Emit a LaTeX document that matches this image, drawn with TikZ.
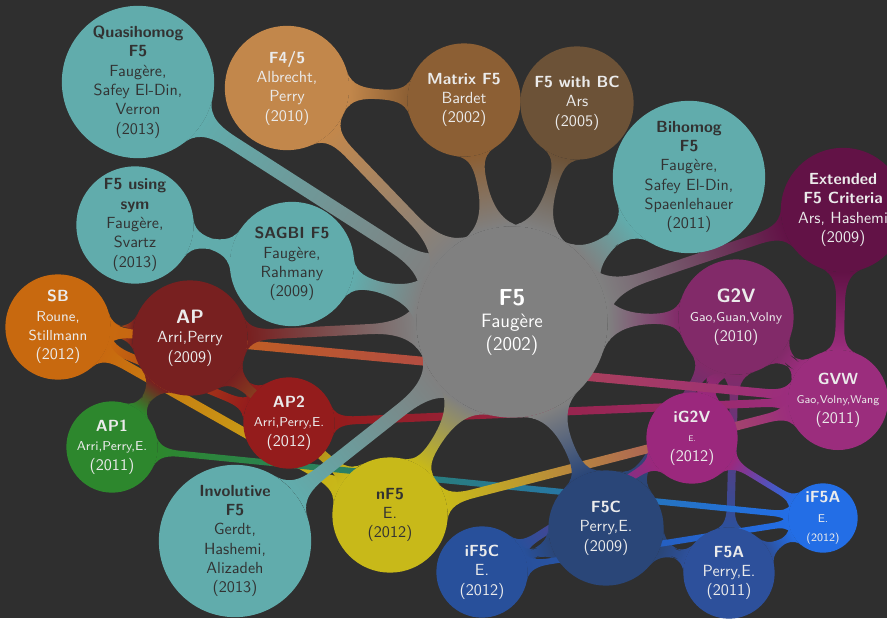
\documentclass[tikz,border=0pt]{standalone}
\usetikzlibrary{mindmap,backgrounds}

\newcommand\px{0.0218cm}

\definecolor{cbg}{RGB}{47,47,47}
\definecolor{cink}{RGB}{50,50,50}
\definecolor{cteal}{RGB}{97,172,172}
\definecolor{croot}{RGB}{128,128,128}
\colorlet{cquasi}{cteal}
\colorlet{cbihom}{cteal}
\colorlet{csagbi}{cteal}
\colorlet{csym}{cteal}
\colorlet{cinvol}{cteal}
\definecolor{cf45}{RGB}{194,135,75}
\definecolor{cmatrix}{RGB}{140,95,52}
\definecolor{cbc}{RGB}{108,82,55}
\definecolor{cext}{RGB}{98,18,70}
\definecolor{cgtv}{RGB}{130,42,105}
\definecolor{cgvw}{RGB}{155,45,125}
\definecolor{cigtv}{RGB}{155,40,125}
\definecolor{csb}{RGB}{200,105,15}
\definecolor{cap}{RGB}{120,32,32}
\definecolor{cap2}{RGB}{148,28,28}
\definecolor{cap1}{RGB}{45,135,45}
\definecolor{cnf}{RGB}{200,185,25}
\definecolor{cfc}{RGB}{42,70,120}
\definecolor{cifc}{RGB}{40,80,155}
\definecolor{cfa}{RGB}{45,80,155}
\definecolor{cifa}{RGB}{35,110,230}

\begin{document}
\begin{tikzpicture}[x=\px, y=-\px,
    idea/.style={circle, inner sep=0pt, align=center, font=\sffamily, text=white!92!black,
      fill=#1, draw=#1, line width=0.8pt},
    dark idea/.style={idea=#1, text=cink},
    hub/.style={idea=croot, minimum size=190*\px, font=\sffamily\large, text=white},
    large idea/.style={minimum size=151*\px},
    mid idea/.style={minimum size=123*\px},
    idea size/.style={minimum size=#1*\px},
    small idea/.style={minimum size=90*\px},
    tiny idea/.style={minimum size=68*\px},
  ]
  \begin{pgfonlayer}{background}
    \fill[cbg] (0,0) rectangle (887,618);
  \end{pgfonlayer}
  \useasboundingbox (0,0) rectangle (887,618);

  % the root
  \node[hub] (root) at (512,322) {{\Large\bfseries F5}\\Faugère\\(2002)};

  % upper half
  \node[dark idea=cquasi, large idea] (quasi) at (138,82)
    {\textbf{Quasihomog}\\\textbf{F5}\\Faugère,\\Safey El-Din,\\Verron\\(2013)};
  \node[idea=cf45, mid idea] (f45) at (287,88) {\textbf{F4/5}\\Albrecht,\\Perry\\(2010)};
  \node[idea=cmatrix, idea size=112] (matrix) at (464,100) {\textbf{Matrix F5}\\Bardet\\(2002)};
  \node[idea=cbc, idea size=112] (bc) at (577,103) {\textbf{F5 with BC}\\Ars\\(2005)};
  \node[dark idea=cbihom, large idea] (bihom) at (689,177)
    {\textbf{Bihomog}\\\textbf{F5}\\Faugère,\\Safey El-Din,\\Spaenlehauer\\(2011)};
  \node[idea=cext, mid idea] (ext) at (843,210)
    {\textbf{Extended}\\\textbf{F5 Criteria}\\Ars, Hashemi\\(2009)};
  \node[dark idea=csagbi, mid idea] (sagbi) at (292,264) {\textbf{SAGBI F5}\\Faugère,\\Rahmany\\(2009)};
  \node[dark idea=csym, idea size=116] (sym) at (135,225)
    {\textbf{F5 using}\\\textbf{sym}\\Faugère,\\Svartz\\(2013)};

  % left side
  \node[idea=csb, idea size=104] (sb) at (58,327)
    {\textbf{SB}\\{\small Roune,}\\{\small Stillmann}\\(2012)};
  \node[idea=cap, idea size=114] (ap) at (190,338) {{\large\bfseries AP}\\Arri,Perry\\(2009)};
  \node[idea=cap2, small idea] (ap2) at (289,423) {\textbf{AP2}\\{\footnotesize Arri,Perry,E.}\\(2012)};
  \node[idea=cap1, small idea] (ap1) at (112,447) {\textbf{AP1}\\{\footnotesize Arri,Perry,E.}\\(2011)};
  \node[dark idea=cinvol, large idea] (invol) at (235,541)
    {\textbf{Involutive}\\\textbf{F5}\\Gerdt,\\Hashemi,\\Alizadeh\\(2013)};
  \node[dark idea=cnf, idea size=114] (nf) at (390,515) {\textbf{nF5}\\E.\\(2012)};

  % right side
  \node[idea=cgtv, idea size=114] (gtv) at (736,317)
    {{\large\bfseries G2V}\\{\footnotesize Gao,Guan,Volny}\\(2010)};
  \node[idea=cgvw, small idea] (gvw) at (838,400) {\textbf{GVW}\\{\scriptsize Gao,Volny,Wang}\\(2011)};
  \node[idea=cigtv, small idea] (igtv) at (692,438) {\textbf{iG2V}\\{\tiny E.}\\(2012)};
  \node[idea=cfc, idea size=114] (fc) at (606,528) {\textbf{F5C}\\Perry,E.\\(2009)};
  \node[idea=cifc, small idea] (ifc) at (482,572) {\textbf{iF5C}\\E.\\(2012)};
  \node[idea=cfa, small idea] (fa) at (729,573) {\textbf{F5A}\\Perry,E.\\(2011)};
  \node[idea=cifa, tiny idea] (ifa) at (823,518) {\textbf{iF5A}\\{\scriptsize E.}\\{\scriptsize (2012)}};

  % connections, behind the circles
  \begin{pgfonlayer}{background}
    \foreach \a/\b/\w in {f45/matrix/1.8mm, sagbi/sym/1.8mm, ext/gvw/1.8mm, gtv/gvw/1.8mm,
        gtv/igtv/1.8mm, gtv/fa/1.8mm, gtv/fc/1.8mm, sb/ap/1.8mm, sb/gvw/1.8mm, sb/ap2/1.8mm,
        sb/nf/1.8mm, ap/ap1/1.8mm, ap/ap2/1.8mm, ap/nf/1.8mm, ap2/gvw/1.8mm, ap1/ifa/1.4mm,
        nf/gvw/1.8mm, igtv/ifc/1.8mm, igtv/ifa/1.4mm, fc/ifc/1.8mm, fc/fa/1.8mm,
        ifc/ifa/1.4mm, fa/ifa/1.4mm}
      \path[line width=\w] (\a) to[circle connection bar switch color=from (c\a) to (c\b)] (\b);
    \foreach \b in {quasi, f45, matrix, bc, bihom, ext, gtv, ap, sagbi, invol, nf, fc}
      \path[line width=2.7mm] (root) to[circle connection bar switch color=from (croot) to (c\b)] (\b);
  \end{pgfonlayer}
\end{tikzpicture}
\end{document}
